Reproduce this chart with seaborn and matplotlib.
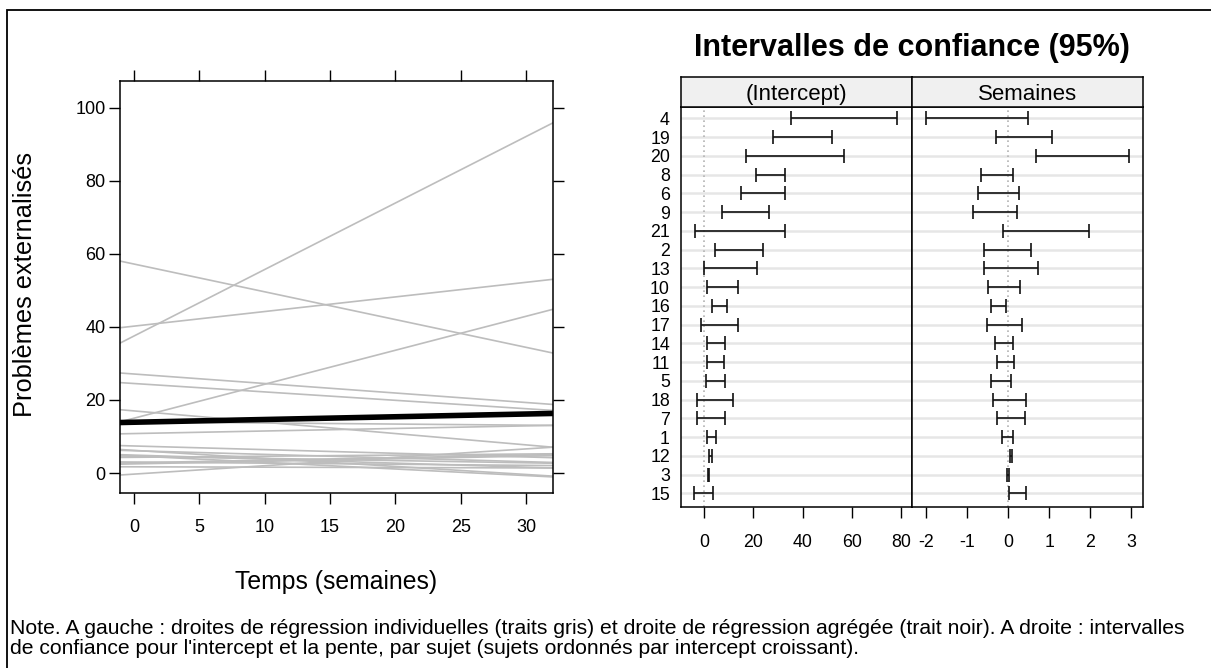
import numpy as np
import pandas as pd
import matplotlib
matplotlib.use("Agg")
import matplotlib.pyplot as plt
from matplotlib.patches import Rectangle
import seaborn as sns

# Sujets, du haut vers le bas (ordre du dotplot : intercept décroissant)
sujets = ["4", "19", "20", "8", "6", "9", "21", "2", "13", "10", "16",
          "17", "14", "11", "5", "18", "7", "1", "12", "3", "15"]

# Droites individuelles : ordonnée à l'origine et pente estimées
intercepts = [57.2, 40.2, 37.5, 27.1, 24.5, 17.0, 15.0, 14.0, 10.8, 7.4, 6.2,
              6.1, 4.9, 4.6, 4.7, 4.3, 2.8, 3.0, 2.5, 1.7, -0.3]
pentes = [-0.76, 0.40, 1.82, -0.26, -0.23, -0.31, 0.93, -0.03, 0.07, -0.10, -0.22,
          -0.10, -0.11, -0.06, -0.18, 0.03, 0.07, -0.03, 0.07, -0.01, 0.23]

# Droite agrégée
intercept_global = 13.9
pente_globale = 0.075

# IC 95 % de l'intercept
int_bas = [35.3, 28.1, 17.1, 20.9, 15.1, 7.2, -3.8, 4.2, -0.3, 1.2, 3.0,
           -1.3, 1.1, 1.2, 0.8, -3.1, -3.1, 1.0, 1.9, 1.4, -4.2]
int_haut = [78.6, 51.9, 56.8, 33.0, 33.0, 26.4, 32.9, 23.9, 21.5, 13.6, 9.4,
            13.6, 8.6, 8.0, 8.6, 11.7, 8.6, 4.9, 3.1, 2.0, 3.7]

# IC 95 % de la pente (Semaines)
pente_bas = [-2.01, -0.30, 0.68, -0.67, -0.75, -0.85, -0.12, -0.60, -0.60, -0.49, -0.41,
             -0.53, -0.33, -0.27, -0.42, -0.38, -0.27, -0.16, 0.04, -0.03, 0.02]
pente_haut = [0.48, 1.08, 2.94, 0.11, 0.26, 0.22, 1.97, 0.55, 0.73, 0.29, -0.06,
              0.33, 0.11, 0.15, 0.07, 0.44, 0.40, 0.11, 0.10, 0.01, 0.43]

x_ticks = [0, 5, 10, 15, 20, 25, 30]
y_ticks = [0, 20, 40, 60, 80, 100]
int_ticks = [0, 20, 40, 60, 80]
pente_ticks = [-2, -1, 0, 1, 2, 3]

note_l1 = ("Note. A gauche : droites de régression individuelles (traits gris) et droite de "
           "régression agrégée (trait noir). A droite : intervalles")
note_l2 = "de confiance pour l'intercept et la pente, par sujet (sujets ordonnés par intercept croissant)."

sns.set_theme(style="white")
plt.rcParams['font.family'] = ['Liberation Sans', 'DejaVu Sans']
plt.rcParams['axes.unicode_minus'] = False
for k in ['text.color', 'axes.labelcolor', 'xtick.color', 'ytick.color']:
    plt.rcParams[k] = 'black'

W, H = 1211, 668
fig = plt.figure(figsize=(W / 100, H / 100), dpi=100)


def px_axes(x0, y0, x1, y1):
    # rectangle en pixels (origine en haut à gauche)
    return fig.add_axes([x0 / W, 1 - y1 / H, (x1 - x0) / W, (y1 - y0) / H])


# ---------- panneau de gauche ----------
xlim = (-1.07, 32.06)
ax = px_axes(120, 81, 553, 493)
df_lines = pd.DataFrame({
    'sujet': np.repeat(sujets, 2),
    'semaines': np.tile(xlim, len(sujets)),
})
df_lines['intercept'] = np.repeat(intercepts, 2)
df_lines['pente'] = np.repeat(pentes, 2)
df_lines['pred'] = df_lines['intercept'] + df_lines['pente'] * df_lines['semaines']
sns.lineplot(data=df_lines, x='semaines', y='pred', units='sujet', estimator=None,
             color='#bdbdbd', lw=1.2, ax=ax)
df_glob = pd.DataFrame({'semaines': list(xlim)})
df_glob['pred'] = intercept_global + pente_globale * df_glob['semaines']
sns.lineplot(data=df_glob, x='semaines', y='pred', color='black', lw=4.0, ax=ax)

ax.set_xlim(*xlim)
ax.set_ylim(-5.47, 107.3)
ax.set_xticks(x_ticks)
ax.set_yticks(y_ticks)
ax.tick_params(axis='both', direction='out', length=8, width=1.0, color='black',
               top=True, right=True, labeltop=False, labelright=False,
               labelsize=13, bottom=True, left=True)
ax.tick_params(axis='x', pad=11)
ax.tick_params(axis='y', pad=2.5)
for s in ax.spines.values():
    s.set_color('black')
    s.set_linewidth(1.1)
ax.set_xlabel('Temps (semaines)', fontsize=17.8)
ax.set_ylabel('Problèmes externalisés', fontsize=18.3)
ax.xaxis.set_label_coords(0.5, -0.186)
ax.yaxis.set_label_coords(-0.192, 0.505)

# ---------- panneaux de droite ----------
pos = np.arange(len(sujets), 0, -1)
panneaux = [
    ('(Intercept)', int_bas, int_haut, (-9.49, 84.6), int_ticks, 681, 912),
    ('Semaines', pente_bas, pente_haut, (-2.35, 3.29), pente_ticks, 912, 1143),
]
for i, (titre, bas, haut, lim, ticks, x0, x1) in enumerate(panneaux):
    axp = px_axes(x0, 106.7, x1, 506.5)
    axp.set_yticks(pos)
    axp.set_yticklabels(sujets if i == 0 else [])
    axp.grid(axis='y', color='#e6e6e6', lw=1.8)
    axp.set_axisbelow(True)
    axp.axvline(0, color='#b3b3b3', ls=(0, (1, 2)), lw=1.2, zorder=1)
    axp.hlines(pos, bas, haut, color='#111111', lw=1.2, zorder=3)
    axp.plot(bas, pos, ls='none', marker='|', ms=10, mew=1.2, color='#111111', zorder=3)
    axp.plot(haut, pos, ls='none', marker='|', ms=10, mew=1.2, color='#111111', zorder=3)
    axp.set_xlim(*lim)
    axp.set_ylim(0.3, 21.62)
    axp.set_xticks(ticks)
    axp.tick_params(axis='x', direction='out', length=8, width=1.0, color='black',
                    bottom=True, labelsize=12.8, pad=12)
    axp.tick_params(axis='y', length=0, labelsize=12.8, pad=8)
    for s in axp.spines.values():
        s.set_color('black')
        s.set_linewidth(1.1)
    # bandeau (strip)
    st = px_axes(x0, 77.3, x1, 106.7)
    st.set_facecolor('#f0f0f0')
    st.set_xticks([])
    st.set_yticks([])
    for s in st.spines.values():
        s.set_color('black')
        s.set_linewidth(1.1)
    st.text(0.5, 0.42, titre, ha='center', va='center', fontsize=16, transform=st.transAxes)

fig.text(912 / W, 1 - 48 / H, 'Intervalles de confiance (95%)', ha='center', va='center',
         fontsize=22, fontweight='bold')

fig.text(10 / W, 1 - 628 / H, note_l1, ha='left', va='center', fontsize=15.2)
fig.text(10 / W, 1 - 648 / H, note_l2, ha='left', va='center', fontsize=15.2)

# cadre extérieur
fig.add_artist(Rectangle((7 / W, -0.1), 1.2, 1 - 10 / H + 0.1, transform=fig.transFigure,
                         fill=False, ec='black', lw=1.3))

fig.savefig('out.png', dpi=100)
